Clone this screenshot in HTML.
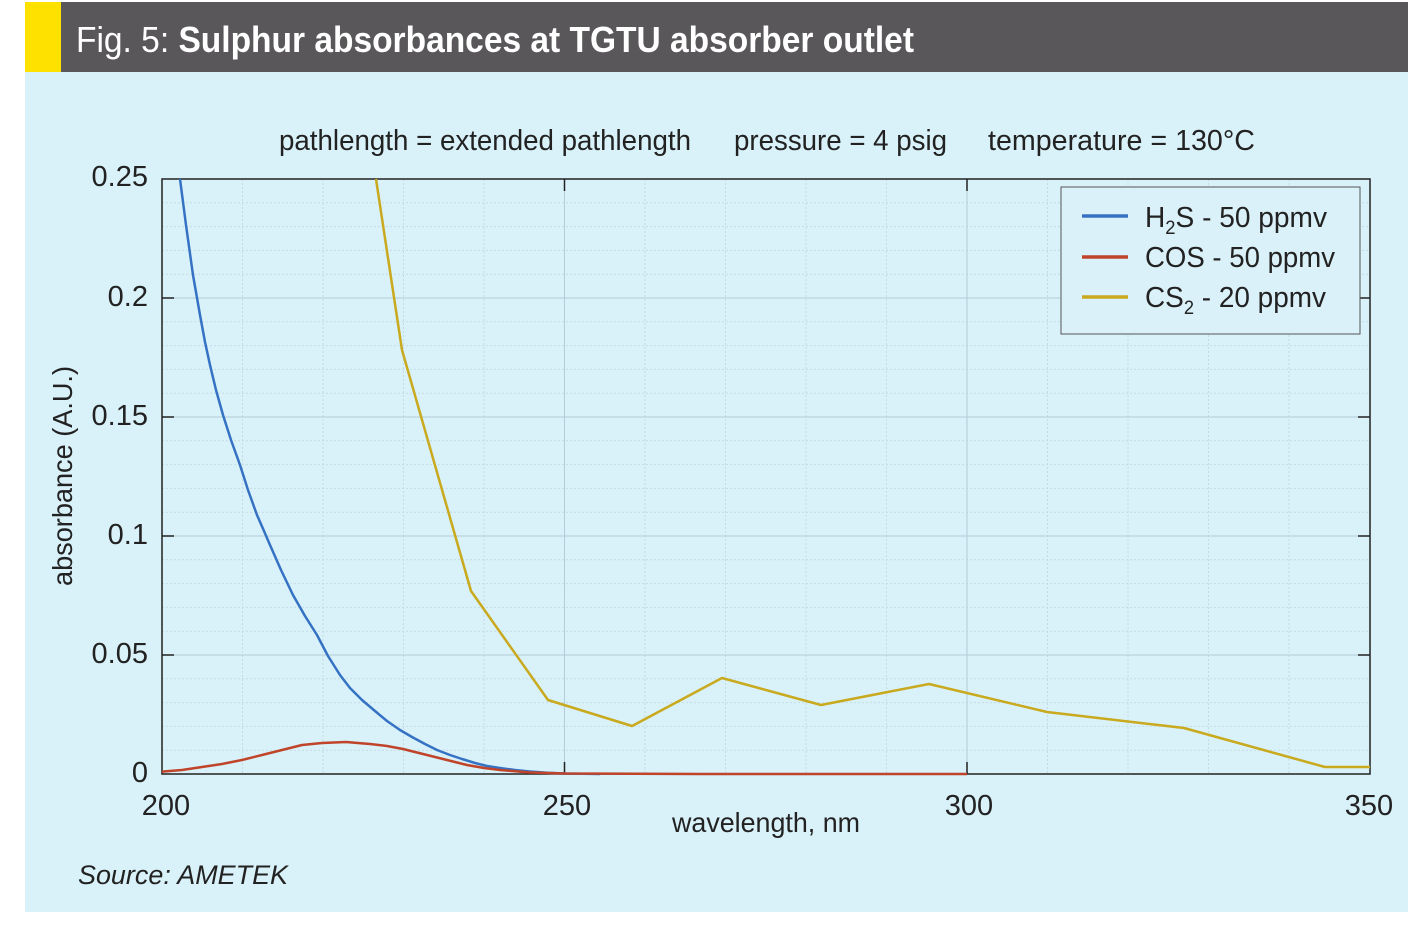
<!DOCTYPE html>
<html><head><meta charset="utf-8"><style>
body{margin:0;background:#fff;}
svg{display:block;font-family:"Liberation Sans",sans-serif;}
</style></head><body>
<svg width="1422" height="926" viewBox="0 0 1422 926">
<rect x="0" y="0" width="1422" height="926" fill="#fff"/>
<rect x="25" y="72" width="1383" height="840" fill="#d9f1f9"/>
<rect x="25" y="2" width="1383" height="70" fill="#59575a"/>
<rect x="25" y="2" width="36" height="70" fill="#ffe100"/>
<text x="76" y="52" font-size="36" fill="#fff" textLength="838" lengthAdjust="spacingAndGlyphs">Fig. 5: <tspan font-weight="bold">Sulphur absorbances at TGTU absorber outlet</tspan></text>
<text x="279" y="150" font-size="29" fill="#222" textLength="412" lengthAdjust="spacingAndGlyphs">pathlength = extended pathlength</text>
<text x="734" y="150" font-size="29" fill="#222" textLength="213" lengthAdjust="spacingAndGlyphs">pressure = 4 psig</text>
<text x="988" y="150" font-size="29" fill="#222" textLength="267" lengthAdjust="spacingAndGlyphs">temperature = 130°C</text>
<g stroke="#c4dbe4" stroke-width="1" stroke-dasharray="2,2">
<path d="M242.5 179V774M323 179V774M403.5 179V774M484 179V774M645 179V774M725.5 179V774M806 179V774M886.5 179V774M1047.5 179V774M1128 179V774M1208.5 179V774M1289 179V774"/>
<path d="M162 750.2H1370M162 726.4H1370M162 702.6H1370M162 678.8H1370M162 631.2H1370M162 607.4H1370M162 583.6H1370M162 559.8H1370M162 512.2H1370M162 488.4H1370M162 464.6H1370M162 440.8H1370M162 393.2H1370M162 369.4H1370M162 345.6H1370M162 321.8H1370M162 274.2H1370M162 250.4H1370M162 226.6H1370M162 202.8H1370"/>
</g>
<g stroke="#b3ccd7" stroke-width="1">
<path d="M564.5 179V774M967 179V774M162 655H1370M162 536H1370M162 417H1370M162 298H1370"/>
</g>
<rect x="162" y="179" width="1208" height="595" fill="none" stroke="#222" stroke-width="1.5"/>
<g stroke="#222" stroke-width="1.5">
<path d="M564.5 774v-12M967 774v-12M564.5 179v12M967 179v12M162 655h12M162 536h12M162 417h12M162 298h12M1370 655h-12M1370 536h-12M1370 417h-12M1370 298h-12"/>
</g>
<g font-size="29" fill="#222" text-anchor="end">
<text x="148" y="186">0.25</text><text x="148" y="306">0.2</text><text x="148" y="425">0.15</text><text x="148" y="544">0.1</text><text x="148" y="663">0.05</text><text x="148" y="782">0</text>
</g>
<g font-size="29" fill="#222" text-anchor="middle">
<text x="166" y="815">200</text><text x="567" y="815">250</text><text x="969" y="815">300</text><text x="1369" y="815">350</text>
</g>
<text x="766" y="832" font-size="28" fill="#222" text-anchor="middle" textLength="188" lengthAdjust="spacingAndGlyphs">wavelength, nm</text>
<text transform="translate(72,476) rotate(-90)" font-size="28" fill="#222" text-anchor="middle" textLength="220" lengthAdjust="spacingAndGlyphs">absorbance (A.U.)</text>
<text x="78" y="884" font-size="27" font-style="italic" fill="#222" textLength="210" lengthAdjust="spacingAndGlyphs">Source: AMETEK</text>
<g fill="none" stroke-width="2.5" stroke-linejoin="round">
<polyline stroke="#3572c4" points="180,179 186,225 193,275 200,315 205,342 210,365 216,390 223,415 231,440 240,465 248,490 257,515 264,531 270,545 281,570 293,595 305,616 317,635 328,656 340,675 350,688 362,700 375,711 387,721 400,730 412,737 425,744 437,750 450,755 462,759 475,763 487,766 500,768 515,770 530,771.5 547,772.7 565,773.5 600,774"/>
<polyline stroke="#c0442a" points="162,771.6 182,770 202,767 222,764 242,760 262,755 282,750 302,745 322,743 346,742 370,744 387,746 403,749 419,753 435,757 451,761 467,765 484,768 500,770 530,772.5 565,773.5 700,774 967,774"/>
<polyline stroke="#c9a91e" points="376,179 402,350 471,591 548,700 632,726 722,678 821,705 929,684 1047,712 1184,728 1325,767 1370,767"/>
</g>
<rect x="1061" y="187" width="299" height="147" fill="#daf1f9" stroke="#555" stroke-width="1"/>
<g stroke-width="3.5">
<path d="M1082 216h46" stroke="#3572c4"/>
<path d="M1082 257h46" stroke="#c0442a"/>
<path d="M1082 297h46" stroke="#c9a91e"/>
</g>
<g font-size="29" fill="#222">
<text x="1145" y="227" textLength="182" lengthAdjust="spacingAndGlyphs">H<tspan font-size="19" dy="7">2</tspan><tspan dy="-7">S - 50 ppmv</tspan></text>
<text x="1145" y="267" textLength="190" lengthAdjust="spacingAndGlyphs">COS - 50 ppmv</text>
<text x="1145" y="307" textLength="181" lengthAdjust="spacingAndGlyphs">CS<tspan font-size="19" dy="7">2</tspan><tspan dy="-7"> - 20 ppmv</tspan></text>
</g>
</svg>
</body></html>
